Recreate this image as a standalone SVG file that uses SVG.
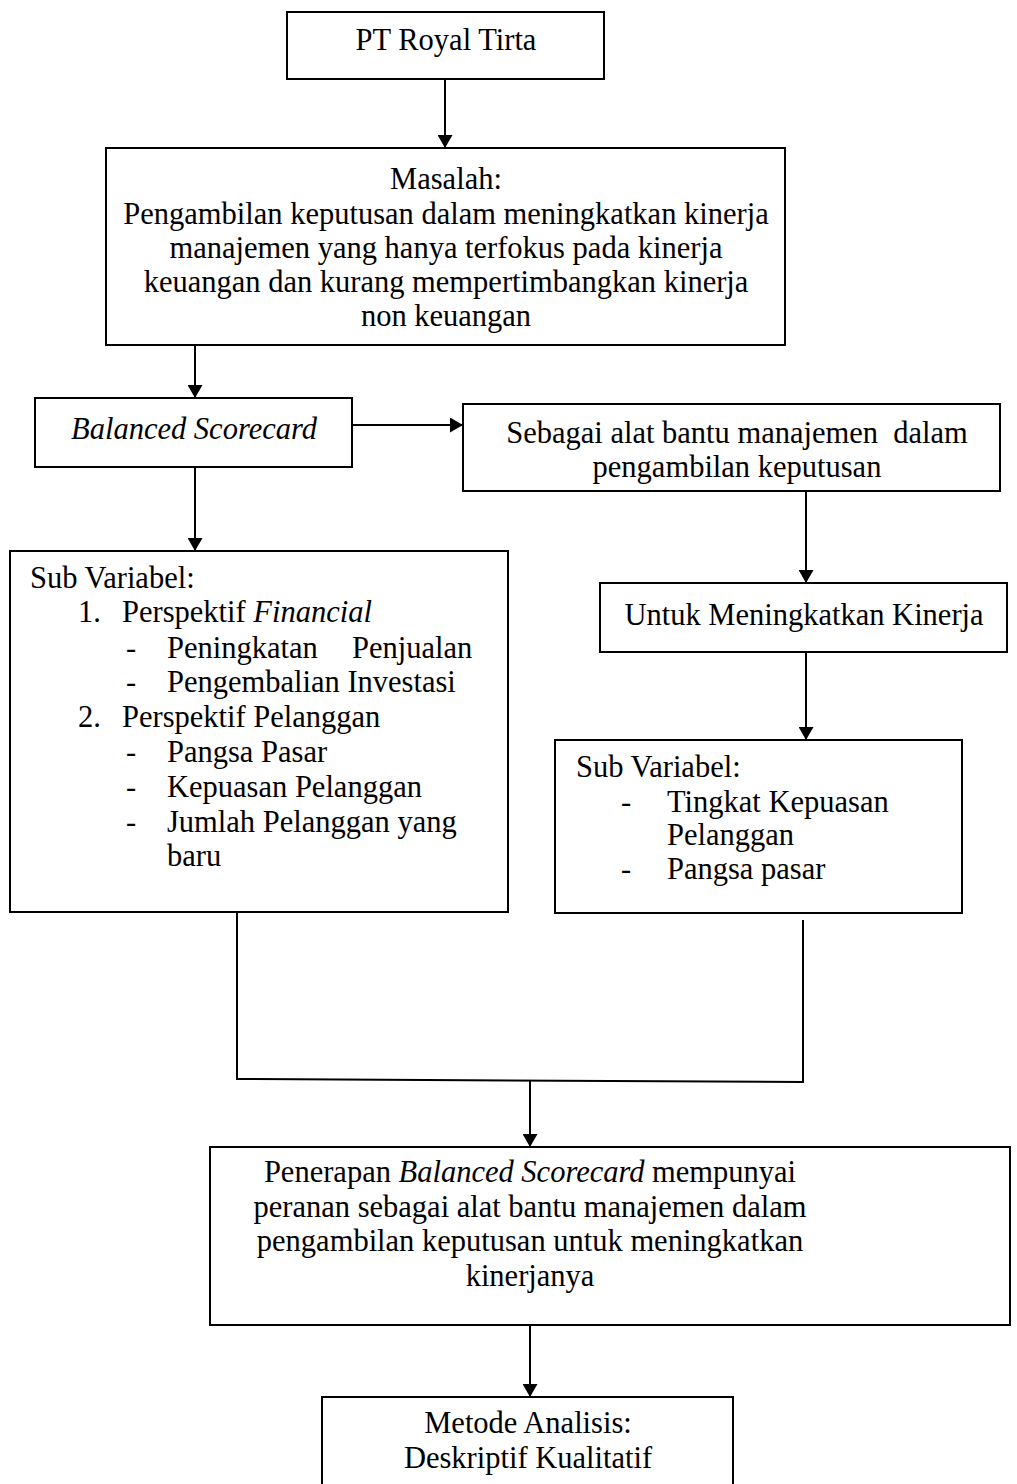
<svg xmlns="http://www.w3.org/2000/svg" width="1017" height="1484" viewBox="0 0 1017 1484">
  <style>
    .box { fill: #fff; stroke: #000; stroke-width: 2; }
    .t { font-family: "Liberation Serif", "Times New Roman", serif; font-size: 30.5px; fill: #000; }
    .c { text-anchor: middle; }
    .i { font-style: italic; }
    .conn { fill: none; stroke: #000; stroke-width: 2; }
  </style>
  <defs>
    <marker id="arrow" viewBox="0 0 13 15" refX="13" refY="7.5" markerWidth="13" markerHeight="15" markerUnits="userSpaceOnUse" orient="auto">
      <path d="M0,0 L13,7.5 L0,15 Z" fill="#000"/>
    </marker>
  </defs>

  <rect width="1017" height="1484" fill="#fff"/>

  <!-- connectors -->
  <g id="connectors">
    <line class="conn" x1="445" y1="79" x2="445" y2="148" marker-end="url(#arrow)"/>
    <line class="conn" x1="195" y1="345" x2="195" y2="398" marker-end="url(#arrow)"/>
    <line class="conn" x1="352" y1="425" x2="463" y2="425" marker-end="url(#arrow)"/>
    <line class="conn" x1="195" y1="467" x2="195" y2="551" marker-end="url(#arrow)"/>
    <line class="conn" x1="806" y1="491" x2="806" y2="583" marker-end="url(#arrow)"/>
    <line class="conn" x1="806" y1="652" x2="806" y2="740" marker-end="url(#arrow)"/>
    <polyline class="conn" points="237,912 237,1079 803,1082 803,920"/>
    <line class="conn" x1="530" y1="1080" x2="530" y2="1147" marker-end="url(#arrow)"/>
    <line class="conn" x1="530" y1="1325" x2="530" y2="1397" marker-end="url(#arrow)"/>
  </g>

  <g id="node-pt">
    <rect class="box" x="287" y="12" width="317" height="67"/>
    <text class="t c" x="446" y="50">PT Royal Tirta</text>
  </g>

  <g id="node-masalah">
    <rect class="box" x="106" y="148" width="679" height="197"/>
    <text class="t c" x="446" y="189">Masalah:</text>
    <text class="t c" x="446" y="224">Pengambilan keputusan dalam meningkatkan kinerja</text>
    <text class="t c" x="446" y="258">manajemen yang hanya terfokus pada kinerja</text>
    <text class="t c" x="446" y="292">keuangan dan kurang mempertimbangkan kinerja</text>
    <text class="t c" x="446" y="326">non keuangan</text>
  </g>

  <g id="node-bsc">
    <rect class="box" x="35" y="398" width="317" height="69"/>
    <text class="t c i" x="194" y="439">Balanced Scorecard</text>
  </g>

  <g id="node-alat">
    <rect class="box" x="463" y="404" width="537" height="87"/>
    <text class="t c" x="737" y="443">Sebagai alat bantu manajemen&#160; dalam</text>
    <text class="t c" x="737" y="477">pengambilan keputusan</text>
  </g>

  <g id="node-sub-left">
    <rect class="box" x="10" y="551" width="498" height="361"/>
    <text class="t" x="30" y="588">Sub Variabel:</text>
    <text class="t" x="78" y="622">1.</text>
    <text class="t" x="122" y="622">Perspektif <tspan class="i">Financial</tspan></text>
    <text class="t" x="126" y="658">-</text>
    <text class="t" x="167" y="658">Peningkatan</text>
    <text class="t" x="352" y="658">Penjualan</text>
    <text class="t" x="126" y="692">-</text>
    <text class="t" x="167" y="692">Pengembalian Investasi</text>
    <text class="t" x="78" y="727">2.</text>
    <text class="t" x="122" y="727">Perspektif Pelanggan</text>
    <text class="t" x="126" y="762">-</text>
    <text class="t" x="167" y="762">Pangsa Pasar</text>
    <text class="t" x="126" y="797">-</text>
    <text class="t" x="167" y="797">Kepuasan Pelanggan</text>
    <text class="t" x="126" y="832">-</text>
    <text class="t" x="167" y="832">Jumlah Pelanggan yang</text>
    <text class="t" x="167" y="866">baru</text>
  </g>

  <g id="node-kinerja">
    <rect class="box" x="600" y="583" width="407" height="69"/>
    <text class="t c" x="804" y="625">Untuk Meningkatkan Kinerja</text>
  </g>

  <g id="node-sub-right">
    <rect class="box" x="555" y="740" width="407" height="173"/>
    <text class="t" x="576" y="777">Sub Variabel:</text>
    <text class="t" x="621" y="812">-</text>
    <text class="t" x="667" y="812">Tingkat Kepuasan</text>
    <text class="t" x="667" y="845">Pelanggan</text>
    <text class="t" x="621" y="879">-</text>
    <text class="t" x="667" y="879">Pangsa pasar</text>
  </g>

  <g id="node-penerapan">
    <rect class="box" x="210" y="1147" width="800" height="178"/>
    <text class="t c" x="530" y="1182">Penerapan <tspan class="i">Balanced Scorecard</tspan> mempunyai</text>
    <text class="t c" x="530" y="1217">peranan sebagai alat bantu manajemen dalam</text>
    <text class="t c" x="530" y="1251">pengambilan keputusan untuk meningkatkan</text>
    <text class="t c" x="530" y="1286">kinerjanya</text>
  </g>

  <g id="node-metode">
    <rect class="box" x="322" y="1397" width="411" height="95"/>
    <text class="t c" x="528" y="1433">Metode Analisis:</text>
    <text class="t c" x="528" y="1468">Deskriptif Kualitatif</text>
  </g>
</svg>
